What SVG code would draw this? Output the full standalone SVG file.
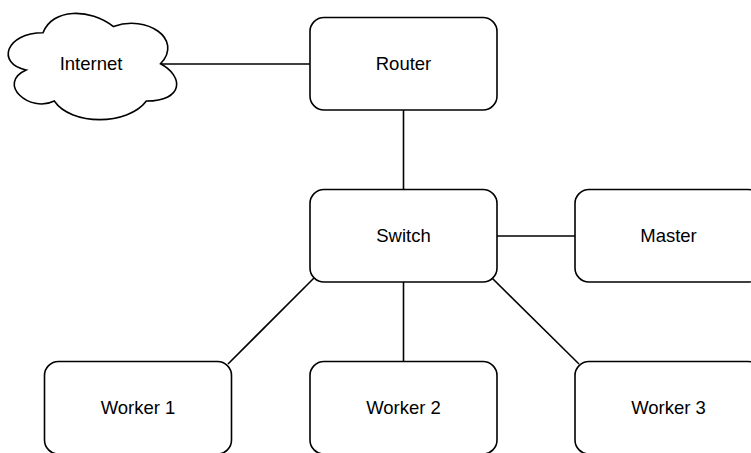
<svg xmlns="http://www.w3.org/2000/svg" width="751" height="453" viewBox="0 0 751 453">
<style>
.node{fill:#ffffff;stroke:#000000;stroke-width:1.6}
.edge{fill:none;stroke:#000000;stroke-width:1.6}
.lbl{font-family:"Liberation Sans",Arial,sans-serif;font-size:18.5px;fill:#000000;text-anchor:middle}
</style>
<rect width="751" height="453" fill="#ffffff"/>
<g id="connectors">
<line class="edge" x1="161" y1="64" x2="310" y2="64"/>
<line class="edge" x1="403.5" y1="110" x2="403.5" y2="189"/>
<line class="edge" x1="497" y1="236" x2="575" y2="236"/>
<line class="edge" x1="403.5" y1="282" x2="403.5" y2="361"/>
<line class="edge" x1="314" y1="278" x2="228" y2="364"/>
<line class="edge" x1="492" y1="278" x2="579" y2="364"/>
</g>
<g id="internet">
<path class="node" transform="translate(-4,1.8) scale(188,124)" vector-effect="non-scaling-stroke" d="M0.25,0.25 C0.05,0.25 0,0.5 0.16,0.55 C0,0.66 0.18,0.9 0.31,0.8 C0.4,1 0.7,1 0.8,0.8 C1,0.8 1,0.6 0.875,0.5 C1,0.3 0.8,0.1 0.625,0.2 C0.5,0.05 0.3,0.05 0.25,0.25 Z"/>
<text class="lbl" x="91" y="70">Internet</text>
</g>
<g id="router">
<rect class="node" x="310" y="17.5" width="187" height="92.5" rx="14" ry="14"/>
<text class="lbl" x="403.5" y="70">Router</text>
</g>
<g id="switch">
<rect class="node" x="310" y="189.5" width="187" height="92.5" rx="14" ry="14"/>
<text class="lbl" x="403.5" y="242">Switch</text>
</g>
<g id="master">
<rect class="node" x="575" y="189.5" width="187" height="92.5" rx="14" ry="14"/>
<text class="lbl" x="668.5" y="242">Master</text>
</g>
<g id="worker1">
<rect class="node" x="44.5" y="361.5" width="187" height="92.5" rx="14" ry="14"/>
<text class="lbl" x="138" y="414">Worker 1</text>
</g>
<g id="worker2">
<rect class="node" x="310" y="361.5" width="187" height="92.5" rx="14" ry="14"/>
<text class="lbl" x="403.5" y="414">Worker 2</text>
</g>
<g id="worker3">
<rect class="node" x="575" y="361.5" width="187" height="92.5" rx="14" ry="14"/>
<text class="lbl" x="668.5" y="414">Worker 3</text>
</g>
</svg>
